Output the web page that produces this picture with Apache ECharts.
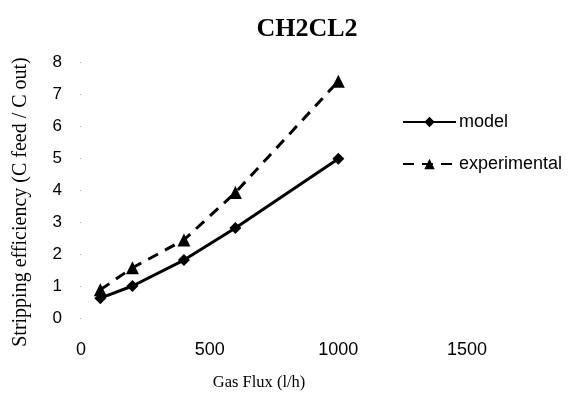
<!DOCTYPE html>
<html>
<head>
<meta charset="utf-8">
<script src="https://cdn.jsdelivr.net/npm/echarts@6/dist/echarts.min.js"></script>
<style>html,body{margin:0;padding:0;background:#fff}#c{width:576px;height:400px}</style>
</head>
<body>
<div id="c"></div>
<script>
var gasFlux = [75, 200, 400, 600, 1000];
var modelValues = [0.62, 1.0, 1.81, 2.81, 4.98];
var experimentalValues = [0.88, 1.57, 2.44, 3.92, 7.4];
var xTicks = [0, 500, 1000, 1500];
var yTicks = [0, 1, 2, 3, 4, 5, 6, 7, 8];

function pairs(xs, ys) { return xs.map(function (x, i) { return [x, ys[i]]; }); }

var chart = echarts.init(document.getElementById('c'));
chart.setOption({
  backgroundColor: '#fff',
  animation: false,
  title: {
    text: 'CH2CL2',
    left: 302,
    top: 11,
    textAlign: 'center',
    textStyle: { fontFamily: 'Liberation Serif', fontWeight: 'bold', fontSize: 26, color: '#000' }
  },
  legend: {
    orient: 'vertical',
    left: 397,
    top: 108,
    itemWidth: 53,
    itemHeight: 13,
    itemGap: 24,
    textStyle: { fontFamily: 'Liberation Sans', fontSize: 18, color: '#000', padding: [0, 0, 0, -2] },
    data: ['model', 'experimental']
  },
  grid: { left: 81, top: 62, width: 386, height: 256 },
  xAxis: {
    type: 'value',
    min: xTicks[0],
    max: xTicks[xTicks.length - 1],
    interval: 500,
    name: 'Gas Flux (l/h)',
    nameLocation: 'middle',
    nameGap: 56,
    nameTextStyle: { fontFamily: 'Liberation Serif', fontSize: 16.5, color: '#000', padding: [0, 30, 0, 0] },
    axisLine: { show: false },
    axisTick: { show: false },
    splitLine: { show: false },
    axisLabel: {
      margin: 23, fontFamily: 'Liberation Sans', fontSize: 18, color: '#000',
      formatter: function (v) { return String(v); }
    }
  },
  yAxis: {
    type: 'value',
    min: yTicks[0],
    max: yTicks[yTicks.length - 1],
    interval: 1,
    name: 'Stripping efficiency (C feed / C out)',
    nameLocation: 'middle',
    nameGap: 50,
    nameTextStyle: { fontFamily: 'Liberation Serif', fontSize: 20, color: '#000', padding: [0, 24, 0, 0] },
    axisLine: { show: false },
    axisTick: { show: true, length: 1, lineStyle: { color: '#aaa' } },
    splitLine: { show: false },
    axisLabel: { margin: 19, fontFamily: 'Liberation Sans', fontSize: 17, color: '#000' }
  },
  series: [
    {
      name: 'model',
      type: 'line',
      data: pairs(gasFlux, modelValues),
      symbol: 'diamond',
      symbolSize: 12,
      itemStyle: { color: '#000' },
      lineStyle: { color: '#000', width: 3 }
    },
    {
      name: 'experimental',
      type: 'line',
      data: pairs(gasFlux, experimentalValues),
      symbol: 'triangle',
      symbolSize: 13,
      itemStyle: { color: '#000' },
      lineStyle: { color: '#000', width: 3, type: [11, 8] }
    }
  ]
});
</script>
</body>
</html>
